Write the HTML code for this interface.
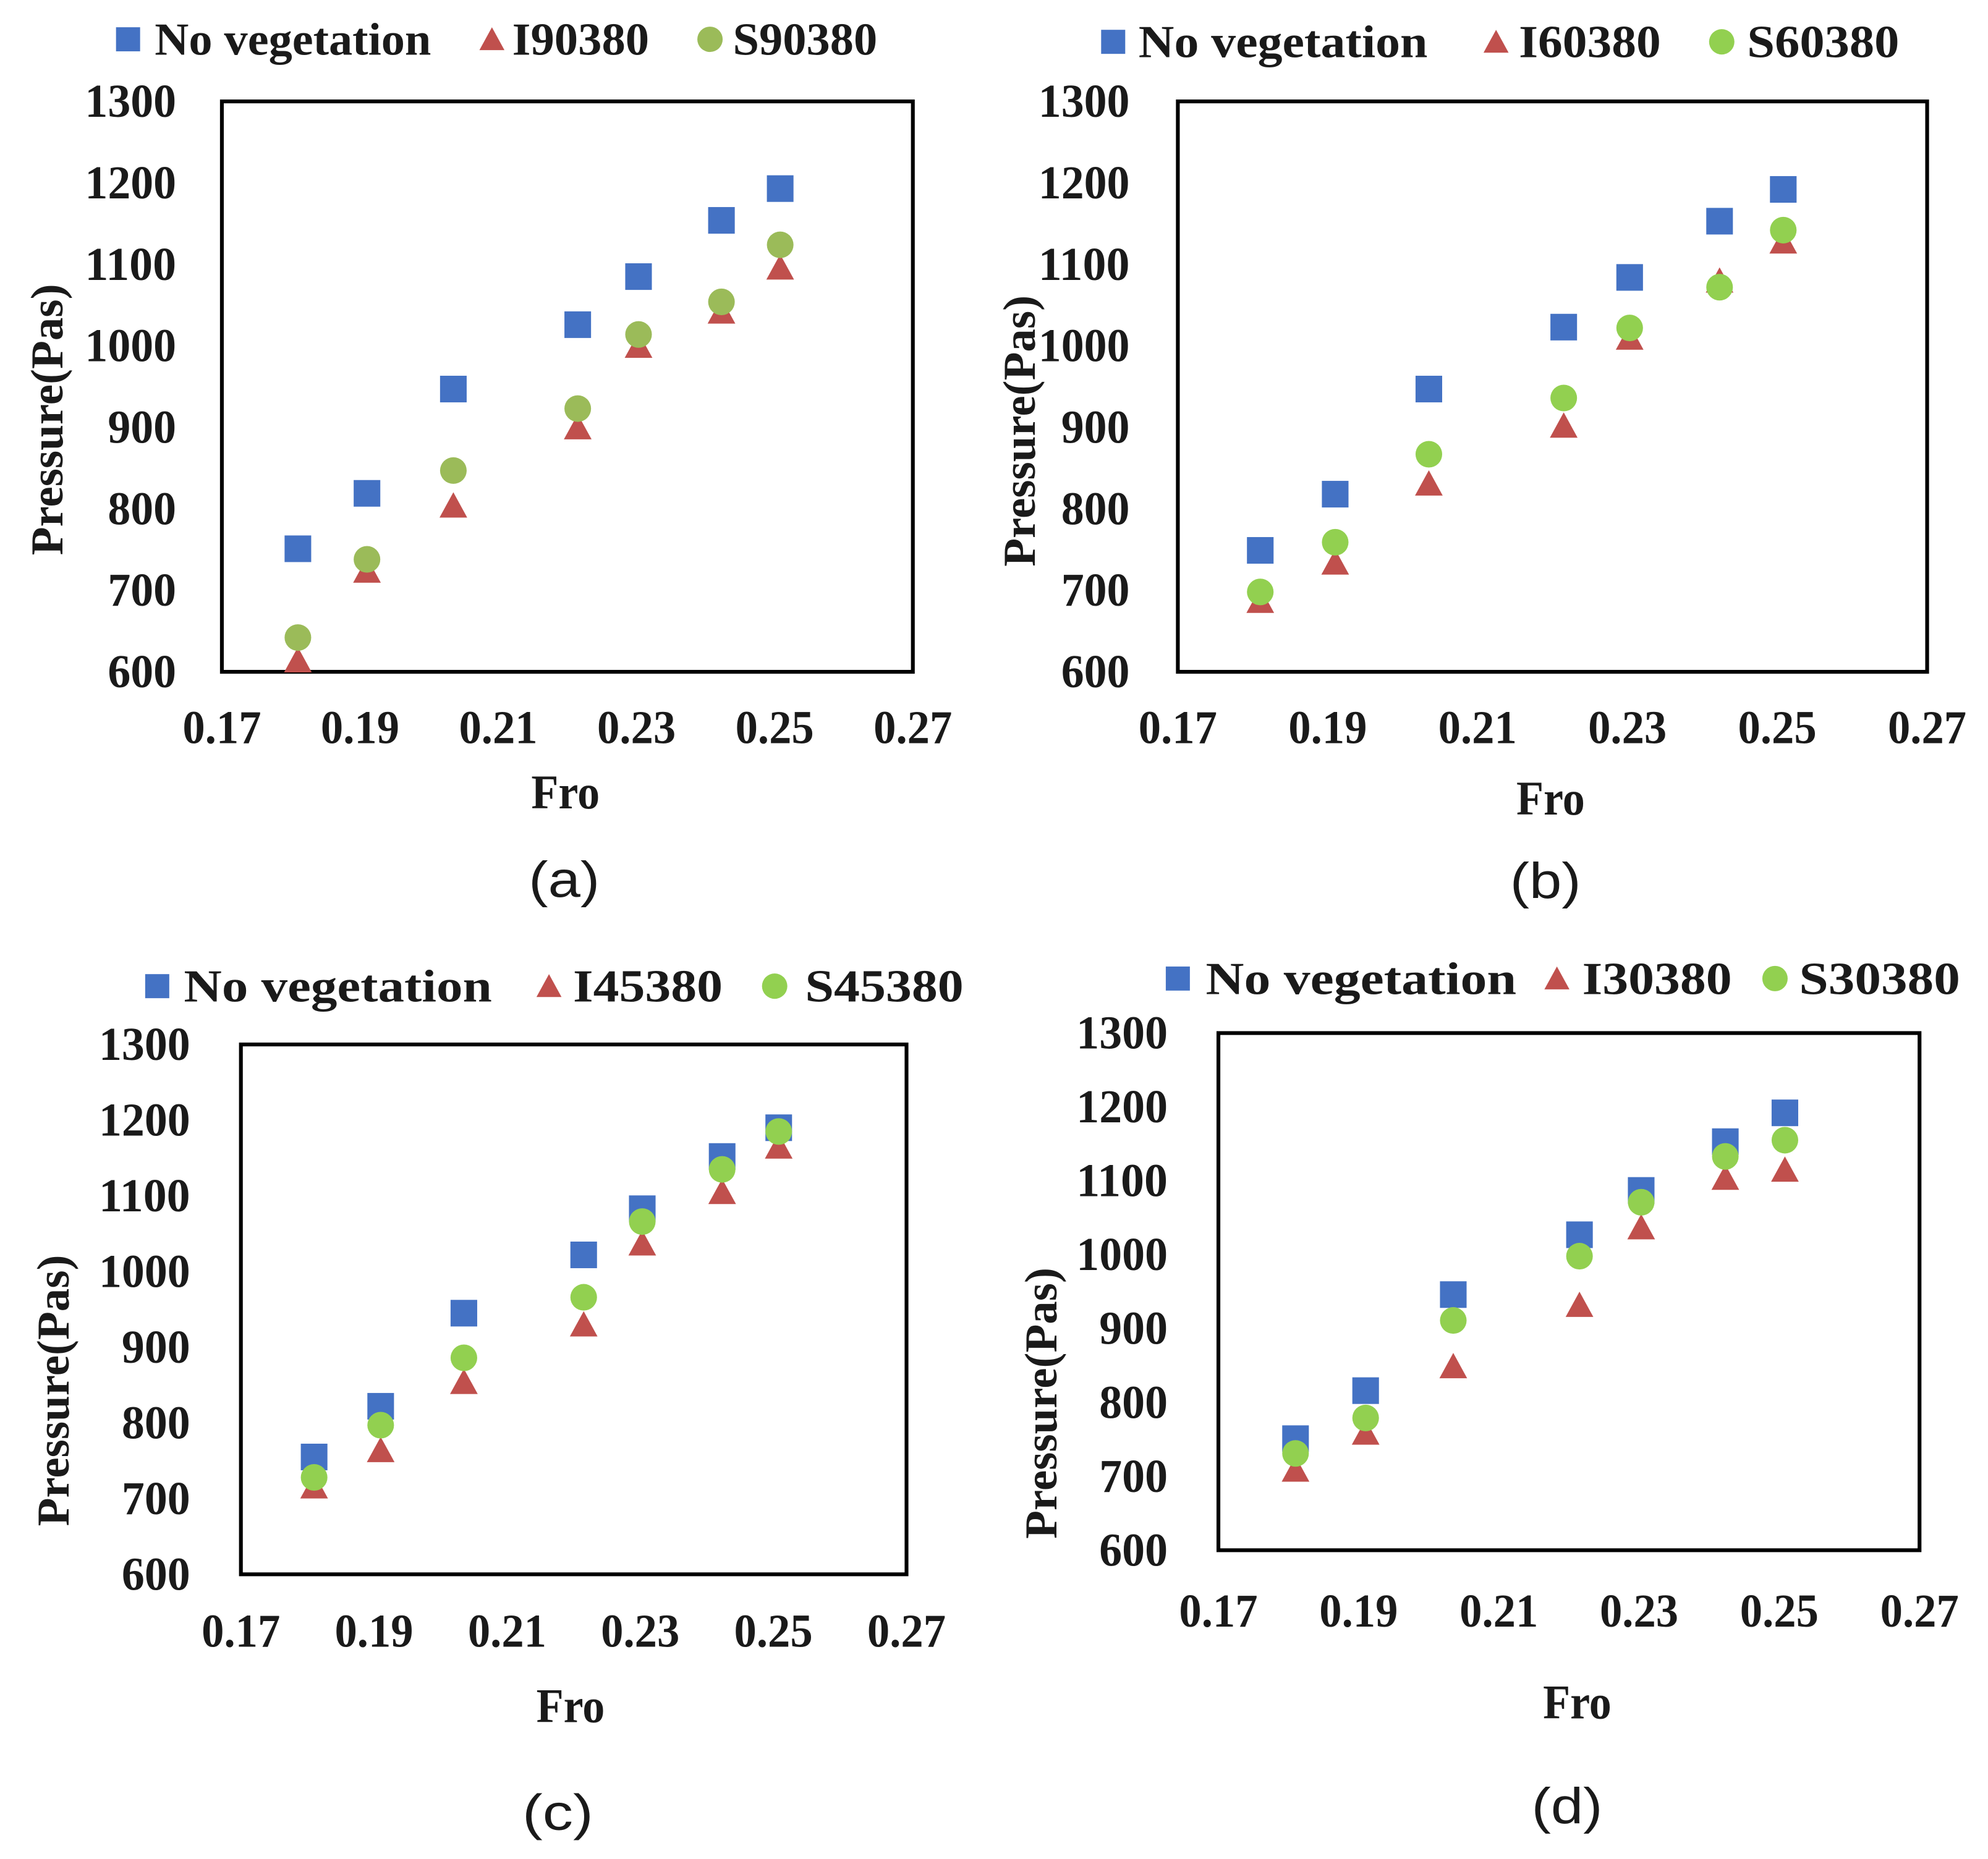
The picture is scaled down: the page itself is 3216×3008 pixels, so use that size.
<!DOCTYPE html>
<html><head><meta charset="utf-8"><style>
html,body{margin:0;padding:0;background:#fff;}
svg{display:block;}
text{font-family:"Liberation Serif","Times New Roman",serif;font-weight:bold;fill:#1a1a1a;}
.cap{font-family:"Liberation Sans",Arial,sans-serif;font-weight:normal;}
</style></head><body>
<svg id="fig" width="3216" height="3008" viewBox="0 0 1568 1466.6" xmlns="http://www.w3.org/2000/svg"></svg>
<script>
// shared x data (Fro)
const fro = [0.181, 0.191, 0.2035, 0.2215, 0.2303, 0.2423, 0.2508];
const xTicks = [0.17, 0.19, 0.21, 0.23, 0.25, 0.27];
const xTickLabels = ["0.17", "0.19", "0.21", "0.23", "0.25", "0.27"];
const yTicks = [600, 700, 800, 900, 1000, 1100, 1200, 1300];
// panel (a)
const aNoVeg = [751, 819, 947, 1026, 1085, 1154, 1193];
const aI = [614, 724, 804, 900, 1000, 1042, 1096];
const aS = [642, 738, 847, 923, 1014, 1054, 1124];
// panel (b)
const bNoVeg = [749, 818, 947, 1023, 1084, 1153, 1192];
const bI = [687, 734, 831, 902, 1010, 1080, 1128];
const bS = [698, 759, 867, 936, 1022, 1072, 1142];
// panel (c)
const cNoVeg = [755, 822, 945, 1022, 1083, 1152, 1190];
const cI = [716, 764, 854, 930, 1037, 1105, 1165];
const cS = [728, 797, 886, 966, 1066, 1135, 1185];
// panel (d)
const dNoVeg = [751, 816, 946, 1027, 1087, 1153, 1192];
const dI = [709, 759, 849, 932, 1037, 1104, 1115];
const dS = [731, 779, 911, 998, 1071, 1133, 1155];

const NS = "http://www.w3.org/2000/svg";
const svg = document.getElementById("fig");
const BLUE = "#4472C4", RED = "#C0504D";

function mk(tag, attrs, parent) {
  const e = document.createElementNS(NS, tag);
  for (const k in attrs) e.setAttribute(k, attrs[k]);
  parent.appendChild(e);
  return e;
}
function txt(parent, x, y, s, size, anchor, len) {
  const t = mk("text", {x: x, y: y, "font-size": size, "text-anchor": anchor, "dominant-baseline": "central"}, parent);
  if (len) { t.setAttribute("textLength", len); t.setAttribute("lengthAdjust", "spacingAndGlyphs"); }
  t.textContent = s;
  return t;
}
function square(g, cx, cy, s, color) { return mk("rect", {x: cx - s/2, y: cy - s/2, width: s, height: s, fill: color}, g); }
function tri(g, cx, cy, s, color) { return mk("polygon", {points: `${cx},${cy - s*0.5} ${cx - s*0.52},${cy + s*0.45} ${cx + s*0.52},${cy + s*0.45}`, fill: color}, g); }
function circ(g, cx, cy, s, color) { return mk("circle", {cx: cx, cy: cy, r: s/2, fill: color}, g); }

function panel(p) {
  const g = mk("g", {}, svg);
  
  
  const X = v => p.L + (v - 0.17) / 0.1 * (p.R - p.L);
  const Y = v => p.B - (v - 600) / 700 * (p.B - p.T);
  const fr = mk("rect", {x: p.L, y: p.T, width: p.R - p.L, height: p.B - p.T, fill: "none", stroke: "#000", "stroke-width": 3}, g);
  
  
  yTicks.forEach(v => {
    const t = txt(g, p.yLabX, Y(v), String(v), 37, "end", v >= 1000 ? 72 : 54);
    
    
  });
  xTicks.forEach((v, i) => {
    const t = txt(g, X(v), p.xLabY, xTickLabels[i], 37, "middle", 62);
    
    
  });
  const xt = txt(g, p.fro[0], p.fro[1], "Fro", 38, "middle", 54);
  
  
  const yt = txt(g, 0, 0, "Pressure(Pas)", 36, "middle", 214);
  yt.setAttribute("transform", `translate(${p.yt[0]},${p.yt[1]}) rotate(-90)`);
  
  
  const cap = txt(g, p.cap[0], p.cap[1], "(" + p.id + ")", 40, "middle", 56);
  cap.setAttribute("class", "cap");
  
  
  const series = [
    {vals: p.s[0], fn: square, color: BLUE, name: "no-vegetation"},
    {vals: p.s[1], fn: tri, color: RED, name: "i-series"},
    {vals: p.s[2], fn: circ, color: p.green, name: "s-series"},
  ];
  series.forEach(se => {
    se.vals.forEach((v, i) => {
      const m = se.fn(g, X(fro[i]), Y(v), 21, se.color);
      
      
    });
  });
  const ly = p.leg.y;
  const lm = [[square, BLUE, 19], [tri, RED, 19], [circ, p.green, 20]];
  p.leg.items.forEach((it, i) => {
    const m = lm[i][0](g, it[0], ly, lm[i][2], lm[i][1]);
    
    
    const t = txt(g, it[1], ly, it[3], 36, "start", it[2] - it[1]);
    
    
  });
}

panel({id: "a", L: 175, R: 720, T: 80, B: 530, yLabX: 139, xLabY: 574, fro: [446, 625], cap: [445, 694], yt: [37, 331],
  green: "#9BBB59", s: [aNoVeg, aI, aS],
  leg: {y: 31, items: [[101, 122, 340, "No vegetation"], [388, 404, 512, "I90380"], [560, 578, 692, "S90380"]]}});
panel({id: "b", L: 929, R: 1520, T: 80, B: 530, yLabX: 891, xLabY: 574, fro: [1223, 630], cap: [1219, 695], yt: [804, 340],
  green: "#92D050", s: [bNoVeg, bI, bS],
  leg: {y: 33, items: [[878, 898, 1126, "No vegetation"], [1180, 1198, 1310, "I60380"], [1358, 1378, 1498, "S60380"]]}});
panel({id: "c", L: 190, R: 715, T: 824, B: 1242, yLabX: 150, xLabY: 1287, fro: [450, 1346], cap: [440, 1430], yt: [42, 1097],
  green: "#92D050", s: [cNoVeg, cI, cS],
  leg: {y: 778, items: [[124, 145, 388, "No vegetation"], [433, 452, 570, "I45380"], [611, 635, 760, "S45380"]]}});
panel({id: "d", L: 961, R: 1514, T: 815, B: 1223, yLabX: 921, xLabY: 1271, fro: [1244, 1343], cap: [1236, 1425], yt: [821, 1107],
  green: "#92D050", s: [dNoVeg, dI, dS],
  leg: {y: 772, items: [[929, 951, 1196, "No vegetation"], [1228, 1248, 1366, "I30380"], [1400, 1419, 1546, "S30380"]]}});
</script>
</body></html>
